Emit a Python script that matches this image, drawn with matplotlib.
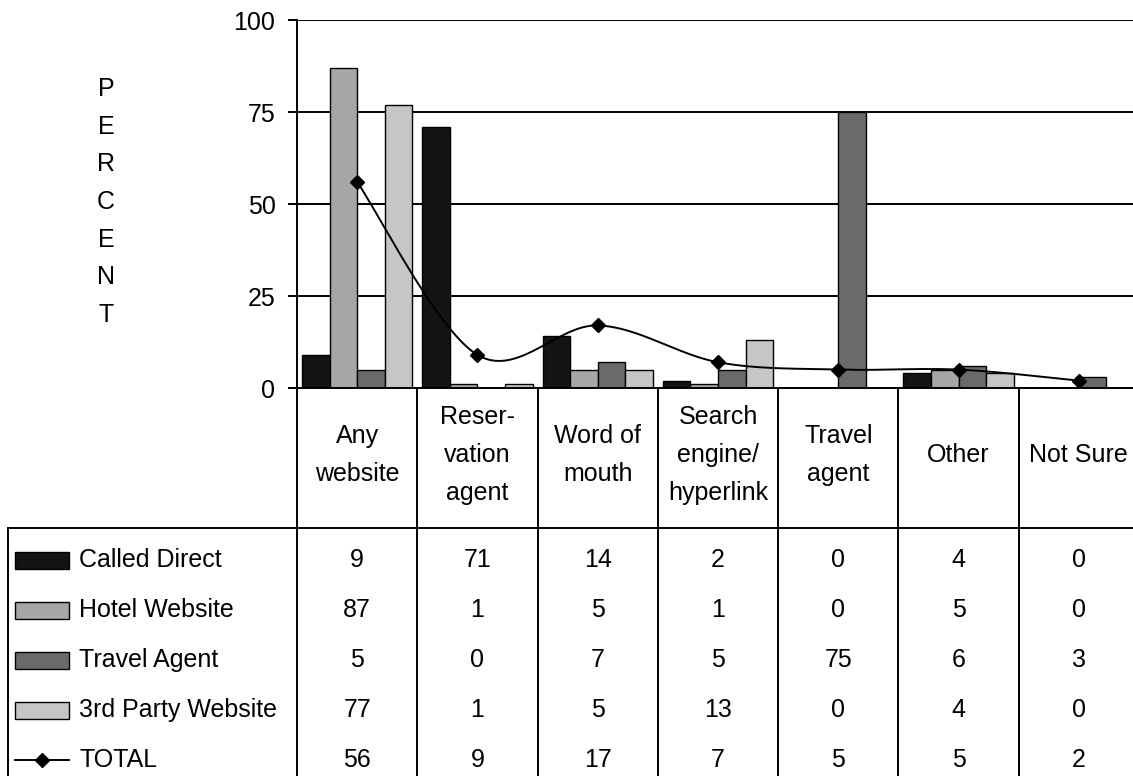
import numpy as np
import matplotlib
matplotlib.use("Agg")
import matplotlib.pyplot as plt
from matplotlib.patches import Rectangle
from matplotlib.lines import Line2D

plt.rcParams.update({
    "font.family": "Liberation Sans",
    "font.size": 18,
    "axes.linewidth": 1.4,
})

categories = ["Any\nwebsite", "Reser-\nvation\nagent", "Word of\nmouth",
              "Search\nengine/\nhyperlink", "Travel\nagent", "Other", "Not Sure"]
series_names = ["Called Direct", "Hotel Website", "Travel Agent", "3rd Party Website"]
called_direct = [9, 71, 14, 2, 0, 4, 0]
hotel_website = [87, 1, 5, 1, 0, 5, 0]
travel_agent = [5, 0, 7, 5, 75, 6, 3]
third_party = [77, 1, 5, 13, 0, 4, 0]
total = [56, 9, 17, 7, 5, 5, 2]
yticks = [0, 25, 50, 75, 100]

series = [called_direct, hotel_website, travel_agent, third_party]
colors = ["#141414", "#a6a6a6", "#6a6a6a", "#c6c6c6"]


def smooth_curve(xs, ys, n=40):
    # Catmull-Rom style cubic Bezier through the points (like a smoothed line)
    pts = np.column_stack([xs, ys]).astype(float)
    p = np.vstack([pts[0], pts, pts[-1]])
    segs = []
    t = np.linspace(0, 1, n)[:, None]
    for i in range(1, len(p) - 2):
        p0, p1, p2, p3 = p[i - 1], p[i], p[i + 1], p[i + 2]
        c1 = p1 + (p2 - p0) / 6
        c2 = p2 - (p3 - p1) / 6
        segs.append((1 - t) ** 3 * p1 + 3 * (1 - t) ** 2 * t * c1
                    + 3 * (1 - t) * t ** 2 * c2 + t ** 3 * p2)
    return np.vstack(segs)


W, H = 1133, 776
fig = plt.figure(figsize=(W / 100, H / 100), dpi=100)

# pixel layout of the plot area
x0, col_w = 297, 842 / 7
y_top, y_zero = 20, 388
ax = fig.add_axes([x0 / W, 1 - y_zero / H, 7 * col_w / W, (y_zero - y_top) / H])

n = len(categories)
x = np.arange(n)
bw = 0.229
for k, (vals, c) in enumerate(zip(series, colors)):
    ax.bar(x + (k - 1.5) * bw, vals, width=bw, color=c, edgecolor="black",
           linewidth=1.0, zorder=3)

curve = smooth_curve(x, total)
ax.plot(curve[:, 0], curve[:, 1], color="black", lw=1.4, zorder=4)
ax.plot(x, total, ls="none", marker="D", ms=7, color="black", zorder=5)

ax.set_xlim(-0.5, n - 0.5)
ax.set_ylim(0, 100)
ax.set_yticks(yticks)
ax.set_xticks([])
ax.yaxis.grid(True, color="black", lw=1.4, zorder=0)
ax.set_axisbelow(True)
ax.tick_params(axis="y", direction="out", length=6.5, width=1.4, pad=9,
               labelsize=18)
for s in ["top", "right"]:
    ax.spines[s].set_visible(False)
ax.spines["bottom"].set_zorder(6)

# data table drawn underneath in pixel coordinates
tab = fig.add_axes([0, 0, 1, 1], facecolor="none")
tab.set_xlim(0, W)
tab.set_ylim(H, 0)
tab.axis("off")

lw = 1.4
for i in range(n + 1):
    xb = x0 + i * col_w
    tab.add_line(Line2D([xb, xb], [y_zero, H], color="black", lw=lw))
tab.add_line(Line2D([8, W], [528, 528], color="black", lw=lw))
tab.add_line(Line2D([8, 8], [528, H], color="black", lw=lw))

for i, lab in enumerate(categories):
    tab.text(x0 + (i + 0.5) * col_w, 455, lab, ha="center", va="center",
             linespacing=1.72, fontsize=18)

row_y = [560, 610, 660, 710, 760]
for r, (name, vals, c) in enumerate(zip(series_names, series, colors)):
    yc = row_y[r]
    tab.add_patch(Rectangle((15, yc - 8.5), 54, 17, facecolor=c,
                            edgecolor="black", lw=1.0))
    tab.text(79, yc, name, ha="left", va="center", fontsize=18)
    for i, v in enumerate(vals):
        tab.text(x0 + (i + 0.5) * col_w, yc, str(v), ha="center", va="center",
                 fontsize=18)

yc = row_y[4]
tab.add_line(Line2D([15, 69], [yc, yc], color="black", lw=1.4))
tab.plot([42], [yc], marker="D", ms=7, color="black")
tab.text(79, yc, "TOTAL", ha="left", va="center", fontsize=18)
for i, v in enumerate(total):
    tab.text(x0 + (i + 0.5) * col_w, yc, str(v), ha="center", va="center",
             fontsize=18)

tab.text(106, 202, "\n".join("PERCENT"), ha="center", va="center",
         linespacing=1.72, fontsize=18)

fig.savefig("out.png", dpi=100)
